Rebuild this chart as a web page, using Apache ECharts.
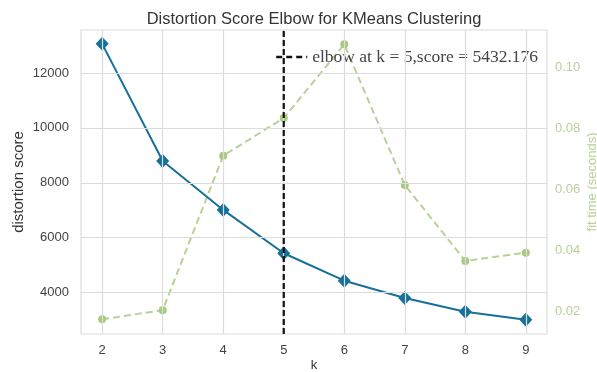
<!DOCTYPE html>
<html>
<head>
<meta charset="utf-8">
<script src="https://cdn.jsdelivr.net/npm/echarts@6/dist/echarts.min.js"></script>
<style>html,body{margin:0;padding:0;background:#fff}#c{width:597px;height:372px}</style>
</head>
<body>
<div id="c"></div>
<script>
var kValues = [2, 3, 4, 5, 6, 7, 8, 9];
var distortion = [13060, 8790, 7010, 5432.176, 4432, 3799, 3299, 3006];
var fitTime = [0.0175, 0.0205, 0.071, 0.0833, 0.1074, 0.0614, 0.0366, 0.0393];
var leftTicks = [4000, 6000, 8000, 10000, 12000];
var rightTicks = [0.02, 0.04, 0.06, 0.08, 0.10];
var elbowK = 5;
var elbowScore = 5432.176;
var xMin = 1.65, xMax = 9.35;
var yMin = 2490, yMax = 13565;
var y2Min = 0.0127, y2Max = 0.1121;

var titleText = 'Distortion Score Elbow for KMeans Clustering';
var elbowLabel = 'elbow at k = ' + elbowK + ',score = ' + elbowScore.toFixed(3);

var gridColor = '#dcdcdc';
var blue = '#17709a';
var green = '#b7d196';
var sans = 'Liberation Sans, Arial, sans-serif';

var chart = echarts.init(document.getElementById('c'), null, {renderer: 'canvas'});
chart.setOption({
  animation: false,
  backgroundColor: '#ffffff',
  title: {
    text: titleText,
    left: 309, top: 6, textAlign: 'center',
    textStyle: {fontFamily: sans, fontSize: 16.5, fontWeight: 'normal', color: '#333333'}
  },
  legend: {
    data: [elbowLabel],
    left: 270, top: 43,
    itemWidth: 31, itemHeight: 12, itemGap: 10,
    itemStyle: {opacity: 0},
    lineStyle: {color: '#111111', width: 2.4, type: [6, 4]},
    textStyle: {fontFamily: 'Liberation Serif, Times New Roman, serif', fontSize: 17.5, color: '#444444'}
  },
  grid: {left: 81, right: 50, top: 30, bottom: 38, show: true, borderColor: gridColor, borderWidth: 1.2,
    containLabel: false, outerBoundsMode: 'none'},
  xAxis: {
    type: 'value', min: xMin, max: xMax,
    name: 'k', nameLocation: 'middle', nameGap: 25, nameMoveOverlap: false,
    nameTextStyle: {fontFamily: sans, fontSize: 13, color: '#333333'},
    axisLine: {show: false}, axisTick: {show: false}, splitLine: {show: false},
    axisLabel: {customValues: kValues, margin: 10, fontFamily: sans, fontSize: 13, color: '#444444'}
  },
  yAxis: [{
    type: 'value', min: yMin, max: yMax,
    name: 'distortion score', nameLocation: 'middle', nameGap: 55, nameRotate: 90, nameMoveOverlap: false,
    nameTextStyle: {fontFamily: sans, fontSize: 15, color: '#333333'},
    axisLine: {show: false}, axisTick: {show: false}, splitLine: {show: false},
    axisLabel: {customValues: leftTicks, margin: 12, fontFamily: sans, fontSize: 13, color: '#444444',
      formatter: function (v) { return String(Math.round(v)); }}
  }, {
    type: 'value', min: y2Min, max: y2Max, position: 'right',
    name: 'fit time (seconds)', nameLocation: 'middle', nameGap: 39, nameRotate: 90, nameMoveOverlap: false,
    nameTextStyle: {fontFamily: sans, fontSize: 13, color: green},
    axisLine: {show: false}, axisTick: {show: false}, splitLine: {show: false},
    axisLabel: {customValues: rightTicks, margin: 8, fontFamily: sans, fontSize: 13, color: green,
      formatter: function (v) { return v.toFixed(2); }}
  }],
  series: [{
    name: 'grid', type: 'line', data: [], silent: true,
    markLine: {
      silent: true, symbol: 'none', label: {show: false},
      lineStyle: {color: gridColor, type: 'solid', width: 1.2},
      data: kValues.map(function (k) { return {xAxis: k}; }).concat(leftTicks.map(function (t) { return {yAxis: t}; }))
    }
  }, {
    name: 'fit time', type: 'line', yAxisIndex: 1, z: 3,
    data: kValues.map(function (k, i) { return [k, fitTime[i]]; }),
    symbol: 'circle', symbolSize: 8,
    lineStyle: {color: green, width: 2, type: [7, 4]},
    itemStyle: {color: '#a9c97f'}
  }, {
    name: 'distortion', type: 'line', z: 4,
    data: kValues.map(function (k, i) { return [k, distortion[i]]; }),
    symbol: 'diamond', symbolSize: [13, 14],
    lineStyle: {color: blue, width: 2},
    itemStyle: {color: blue}
  }, {
    name: elbowLabel, type: 'line', z: 5,
    data: [[elbowK, yMin], [elbowK, yMax]],
    symbol: 'none',
    lineStyle: {color: '#111111', width: 2.2, type: [6, 3]},
    itemStyle: {color: '#111111'}
  }]
});
</script>
</body>
</html>
